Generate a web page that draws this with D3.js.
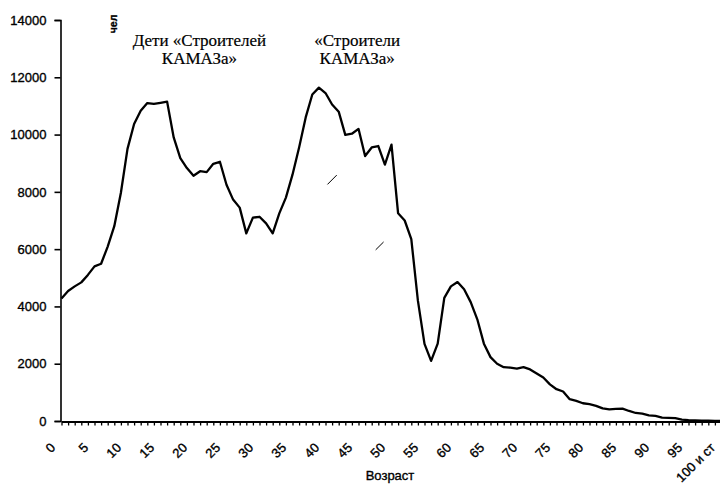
<!DOCTYPE html>
<html>
<head>
<meta charset="utf-8">
<script src="https://cdn.jsdelivr.net/npm/d3@7"></script>
<style>
  body { margin: 0; background: #fff; }
  text { font-family: "Liberation Sans", Arial, sans-serif; fill: #000; stroke: #000; stroke-width: 0.35px; }
  .note { font-family: "Liberation Serif", "Times New Roman", serif; font-size: 17px; stroke-width: 0.2px; }
</style>
</head>
<body>
<svg width="720" height="485"></svg>
<script>
// age categories 0..100, last one is "100 и ст"
var ages = d3.range(0, 101);
var ageLabels = {0: "0", 5: "5", 10: "10", 15: "15", 20: "20", 25: "25", 30: "30", 35: "35",
  40: "40", 45: "45", 50: "50", 55: "55", 60: "60", 65: "65", 70: "70", 75: "75",
  80: "80", 85: "85", 90: "90", 95: "95", 100: "100 и ст"};

// number of people per age
var people = [4280, 4540, 4700, 4840, 5100, 5400, 5490, 6090, 6800, 7970,
  9500, 10370, 10830, 11100, 11070, 11110, 11150, 9900, 9180, 8830,
  8560, 8720, 8690, 8980, 9050, 8250, 7730, 7450, 6550, 7100,
  7130, 6900, 6550, 7250, 7800, 8600, 9550, 10600, 11400, 11640,
  11450, 11050, 10800, 9990, 10030, 10200, 9250, 9550, 9600, 8950,
  9650, 7250, 7000, 6350, 4200, 2690, 2100, 2700, 4300, 4700,
  4850, 4600, 4150, 3550, 2700, 2230, 2000, 1880, 1860, 1830,
  1880, 1800, 1660, 1520, 1280, 1110, 1030, 760, 700, 620,
  590, 530, 440, 408, 420, 430, 350, 280, 255, 200,
  180, 120, 110, 100, 50, 30, 20, 15, 10, 5, 5];

var yTicks = [0, 2000, 4000, 6000, 8000, 10000, 12000, 14000];

// captions over the two peaks (age, value of first baseline)
var noteLines = [["Дети «Строителей", "КАМАЗа»"], ["«Строители", "КАМАЗа»"]];
var noteAge = [20.9, 44.8];
var noteValue = [13090, 13090];

// two small stray strokes visible in the scan
var strokes = [[[40.3, 8260], [41.7, 8585]], [[47.6, 5975], [48.8, 6250]]];

var svg = d3.select("svg");

var x = d3.scaleLinear().domain([0, 100]).range([61.5, 721.5]);
var y = d3.scaleLinear().domain([0, 14000]).range([421, 20]);

// y axis
var yAxis = svg.append("g")
  .attr("transform", "translate(60.5,0)")
  .call(d3.axisLeft(y).tickValues(yTicks).tickSize(6).tickPadding(8).tickFormat(d3.format("d")));
yAxis.selectAll("text").style("font-size", "13px");
yAxis.selectAll("path, line").attr("stroke", "#000").attr("stroke-width", 1.6);

// x axis, tick on every age
var xAxis = svg.append("g")
  .attr("transform", "translate(0,421.5)")
  .call(d3.axisBottom(x).tickValues(ages).tickSize(4).tickSizeOuter(0)
    .tickFormat(function(d) { return ageLabels[d] || ""; }));
xAxis.selectAll("path, line").attr("stroke", "#000").attr("stroke-width", 1.3);
xAxis.select(".domain").attr("stroke-width", 1.8);
xAxis.selectAll("text")
  .attr("y", 0)
  .attr("dy", 0)
  .attr("transform", "translate(-6,27) rotate(-45)")
  .style("text-anchor", "end")
  .style("font-size", "13px");

// axis titles
svg.append("text")
  .attr("x", 390)
  .attr("y", 480)
  .attr("text-anchor", "middle")
  .style("font-size", "13px")
  .text("Возраст");

svg.append("text")
  .attr("transform", "translate(117,24) rotate(-90)")
  .attr("text-anchor", "middle")
  .style("font-size", "10.5px")
  .style("font-weight", "bold")
  .text("чел");

// the population curve
var line = d3.line()
  .x(function(d, i) { return x(ages[i]); })
  .y(function(d) { return y(d); });

svg.append("path")
  .datum(people)
  .attr("fill", "none")
  .attr("stroke", "#000")
  .attr("stroke-width", 2.3)
  .attr("stroke-linejoin", "round")
  .attr("d", line);

svg.selectAll(".stroke")
  .data(strokes)
  .enter().append("line")
    .attr("class", "stroke")
    .attr("x1", function(d) { return x(d[0][0]); })
    .attr("y1", function(d) { return y(d[0][1]); })
    .attr("x2", function(d) { return x(d[1][0]); })
    .attr("y2", function(d) { return y(d[1][1]); })
    .attr("stroke", "#000")
    .attr("stroke-width", 1);

// captions
noteLines.forEach(function(lines, i) {
  var t = svg.append("text")
    .attr("class", "note")
    .attr("text-anchor", "middle")
    .attr("x", x(noteAge[i]))
    .attr("y", y(noteValue[i]));
  t.selectAll("tspan")
    .data(lines)
    .enter().append("tspan")
      .attr("x", x(noteAge[i]))
      .attr("dy", function(d, j) { return j ? 18 : 0; })
      .text(function(d) { return d; });
});
</script>
</body>
</html>
